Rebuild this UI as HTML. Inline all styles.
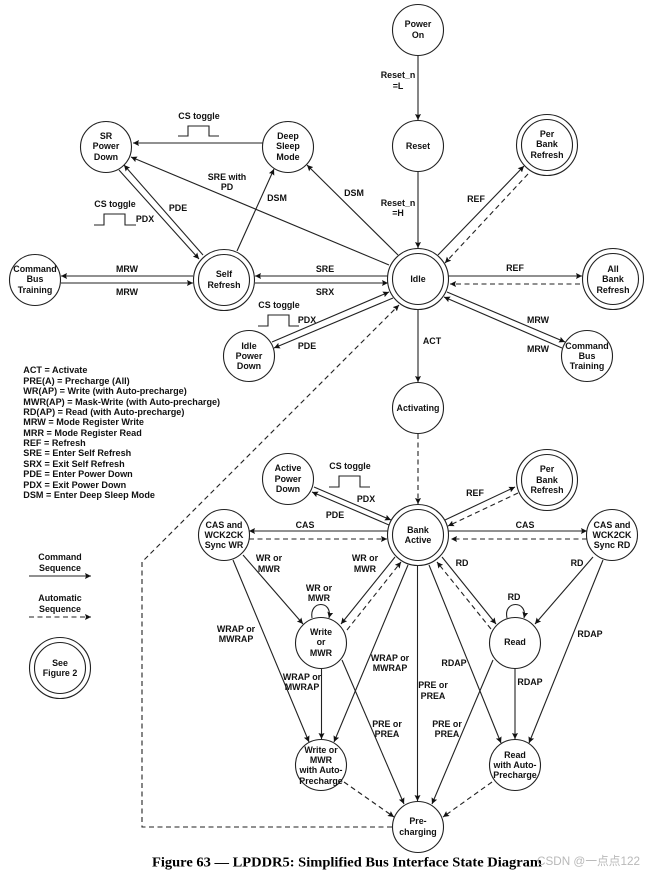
<!DOCTYPE html>
<html>
<head>
<meta charset="utf-8">
<style>
html,body{margin:0;padding:0;background:#fff;width:652px;height:875px;overflow:hidden}
svg{display:block}
text{font-family:"Liberation Sans","Noto Sans CJK SC",sans-serif;font-weight:bold;font-size:8.9px;fill:#111;text-anchor:middle;dominant-baseline:central}
text.leg{text-anchor:start;font-size:9.1px}
text.cap{font-family:"Liberation Serif",serif;font-size:14px;fill:#000;text-anchor:start}
text.wm{font-weight:normal;font-size:12px;fill:#b9b9b9;text-anchor:start}
line,path.e{stroke:#222;stroke-width:1.1;fill:none}
.d{stroke-dasharray:5 3.5}
circle{fill:#fff;stroke:#222;stroke-width:1.1}
</style>
</head>
<body>
<svg width="652" height="875" viewBox="0 0 652 875" xmlns="http://www.w3.org/2000/svg">
<defs>
<marker id="a" markerUnits="userSpaceOnUse" markerWidth="7" markerHeight="6" refX="6" refY="3" orient="auto"><path d="M0 0L6 3L0 6L1 3Z" fill="#111"/></marker>
</defs>

<g marker-end="url(#a)">
<line x1="418" y1="56" x2="418" y2="120"/>
<line x1="418" y1="172" x2="418" y2="248"/>
<line x1="263" y1="143" x2="133" y2="143"/>
<line x1="389" y1="265" x2="131" y2="157"/>
<line x1="398" y1="255" x2="307" y2="165"/>
<line x1="203" y1="255" x2="124" y2="165"/>
<line x1="119" y1="170" x2="199" y2="259"/>
<line x1="237" y1="251" x2="274" y2="169"/>
<line x1="193" y1="276" x2="61" y2="276"/>
<line x1="61" y1="283" x2="193" y2="283"/>
<line x1="388" y1="276" x2="255" y2="276"/>
<line x1="255" y1="283" x2="388" y2="283"/>
<line x1="272" y1="342" x2="389" y2="292"/>
<line x1="393" y1="298" x2="274" y2="348"/>
<line x1="438" y1="255" x2="524" y2="166"/>
<line class="d" x1="528" y1="174" x2="445" y2="263"/>
<line x1="448" y1="276" x2="582" y2="276"/>
<line class="d" x1="580" y1="284" x2="450" y2="284"/>
<line x1="447" y1="292" x2="565" y2="342"/>
<line x1="562" y1="348" x2="444" y2="297"/>
<line x1="418" y1="310" x2="418" y2="382"/>
<path class="e d" d="M392 827H142V562L399 305"/>
<line class="d" x1="418" y1="434" x2="418" y2="504"/>
<line x1="389" y1="525" x2="312" y2="492"/>
<line x1="314" y1="487" x2="391" y2="520"/>
<line x1="388" y1="531" x2="249" y2="531"/>
<line class="d" x1="249" y1="539" x2="387" y2="539"/>
<line x1="243" y1="555" x2="303" y2="624"/>
<line x1="233" y1="560" x2="309" y2="742"/>
<line x1="395" y1="557" x2="341" y2="624"/>
<line class="d" x1="347" y1="630" x2="401" y2="562"/>
<path class="e" d="M312 618C309 600 333 600 329 618"/>
<line x1="321.5" y1="669" x2="321.5" y2="739"/>
<line x1="408" y1="565" x2="334" y2="742"/>
<line x1="342" y1="660" x2="404" y2="804"/>
<line x1="417.5" y1="566" x2="417.5" y2="801"/>
<line class="d" x1="344" y1="782" x2="394" y2="817"/>
<line x1="445" y1="520" x2="515" y2="487"/>
<line class="d" x1="518" y1="493" x2="448" y2="526"/>
<line x1="448" y1="531" x2="587" y2="531"/>
<line class="d" x1="587" y1="539" x2="451" y2="539"/>
<line x1="442" y1="557" x2="496" y2="624"/>
<line class="d" x1="491" y1="629" x2="437" y2="562"/>
<line x1="593" y1="557" x2="535" y2="624"/>
<path class="e" d="M507 618C503 600 528 600 524 618"/>
<line x1="603" y1="560" x2="529" y2="743"/>
<line x1="429" y1="565" x2="501" y2="743"/>
<line x1="515" y1="669" x2="515" y2="739"/>
<line x1="493" y1="660" x2="432" y2="804"/>
<line class="d" x1="492" y1="782" x2="443" y2="817"/>
<line x1="29" y1="576" x2="91" y2="576"/>
<line class="d" x1="29" y1="617" x2="91" y2="617"/>
</g>

<path class="e" d="M178 136H188V126H209V136H219"/>
<path class="e" d="M94 225H104V214H125V225H136"/>
<path class="e" d="M258 326H268V315H289V326H299"/>
<path class="e" d="M329 487H339V476H360V487H370"/>

<!-- single circles -->
<circle cx="418" cy="30" r="25.5"/>
<circle cx="418" cy="146" r="25.5"/>
<circle cx="106" cy="147" r="25.5"/>
<circle cx="288" cy="147" r="25.5"/>
<circle cx="35" cy="280" r="25.5"/>
<circle cx="249" cy="356" r="25.5"/>
<circle cx="587" cy="356" r="25.5"/>
<circle cx="418" cy="408" r="25.5"/>
<circle cx="288" cy="479" r="25.5"/>
<circle cx="224" cy="535" r="25.5"/>
<circle cx="612" cy="535" r="25.5"/>
<circle cx="321" cy="643" r="25.5"/>
<circle cx="515" cy="643" r="25.5"/>
<circle cx="321" cy="765" r="25.5"/>
<circle cx="515" cy="765" r="25.5"/>
<circle cx="418" cy="827" r="25.5"/>
<!-- double circles -->
<circle cx="547" cy="145" r="30.5"/><circle cx="547" cy="145" r="25.5"/>
<circle cx="224" cy="280" r="30.5"/><circle cx="224" cy="280" r="25.5"/>
<circle cx="418" cy="279" r="30.5"/><circle cx="418" cy="279" r="25.5"/>
<circle cx="613" cy="279" r="30.5"/><circle cx="613" cy="279" r="25.5"/>
<circle cx="547" cy="480" r="30.5"/><circle cx="547" cy="480" r="25.5"/>
<circle cx="418" cy="535" r="30.5"/><circle cx="418" cy="535" r="25.5"/>
<circle cx="60" cy="668" r="30.5"/><circle cx="60" cy="668" r="25.5"/>

<!-- node text -->
<text x="418" y="24">Power</text><text x="418" y="35">On</text>
<text x="418" y="146">Reset</text>
<text x="106" y="136">SR</text><text x="106" y="146">Power</text><text x="106" y="157">Down</text>
<text x="288" y="136">Deep</text><text x="288" y="146">Sleep</text><text x="288" y="157">Mode</text>
<text x="35" y="269">Command</text><text x="35" y="279">Bus</text><text x="35" y="290">Training</text>
<text x="224" y="274">Self</text><text x="224" y="285">Refresh</text>
<text x="249" y="346">Idle</text><text x="249" y="356">Power</text><text x="249" y="366">Down</text>
<text x="547" y="134">Per</text><text x="547" y="144">Bank</text><text x="547" y="155">Refresh</text>
<text x="418" y="279">Idle</text>
<text x="613" y="269">All</text><text x="613" y="279">Bank</text><text x="613" y="290">Refresh</text>
<text x="587" y="346">Command</text><text x="587" y="356">Bus</text><text x="587" y="366">Training</text>
<text x="418" y="408">Activating</text>
<text x="288" y="468">Active</text><text x="288" y="479">Power</text><text x="288" y="489">Down</text>
<text x="547" y="469">Per</text><text x="547" y="480">Bank</text><text x="547" y="490">Refresh</text>
<text x="224" y="525">CAS and</text><text x="224" y="535">WCK2CK</text><text x="224" y="545">Sync WR</text>
<text x="612" y="525">CAS and</text><text x="612" y="535">WCK2CK</text><text x="612" y="545">Sync RD</text>
<text x="418" y="530">Bank</text><text x="418" y="540">Active</text>
<text x="321" y="632">Write</text><text x="321" y="642">or</text><text x="321" y="653">MWR</text>
<text x="515" y="642">Read</text>
<text x="321" y="750">Write or</text><text x="321" y="760">MWR</text><text x="321" y="770">with Auto-</text><text x="321" y="781">Precharge</text>
<text x="515" y="755">Read</text><text x="515" y="765">with Auto-</text><text x="515" y="775">Precharge</text>
<text x="418" y="821">Pre-</text><text x="418" y="832">charging</text>
<text x="60" y="663">See</text><text x="60" y="673">Figure 2</text>

<!-- edge labels -->
<text x="398" y="75">Reset_n</text><text x="398" y="86">=L</text>
<text x="398" y="203">Reset_n</text><text x="398" y="213">=H</text>
<text x="199" y="116">CS toggle</text>
<text x="115" y="204">CS toggle</text>
<text x="279" y="305">CS toggle</text>
<text x="350" y="466">CS toggle</text>
<text x="227" y="177">SRE with</text><text x="227" y="187">PD</text>
<text x="277" y="198">DSM</text>
<text x="354" y="193">DSM</text>
<text x="178" y="208">PDE</text>
<text x="145" y="219">PDX</text>
<text x="127" y="269">MRW</text><text x="127" y="292">MRW</text>
<text x="325" y="269">SRE</text><text x="325" y="292">SRX</text>
<text x="307" y="320">PDX</text><text x="307" y="346">PDE</text>
<text x="476" y="199">REF</text>
<text x="515" y="268">REF</text>
<text x="538" y="320">MRW</text><text x="538" y="349">MRW</text>
<text x="432" y="341">ACT</text>
<text x="366" y="499">PDX</text><text x="335" y="515">PDE</text>
<text x="475" y="493">REF</text>
<text x="305" y="525">CAS</text><text x="525" y="525">CAS</text>
<text x="269" y="558">WR or</text><text x="269" y="569">MWR</text>
<text x="365" y="558">WR or</text><text x="365" y="569">MWR</text>
<text x="319" y="588">WR or</text><text x="319" y="598">MWR</text>
<text x="236" y="629">WRAP or</text><text x="236" y="639">MWRAP</text>
<text x="302" y="677">WRAP or</text><text x="302" y="687">MWRAP</text>
<text x="390" y="658">WRAP or</text><text x="390" y="668">MWRAP</text>
<text x="387" y="724">PRE or</text><text x="387" y="734">PREA</text>
<text x="433" y="685">PRE or</text><text x="433" y="696">PREA</text>
<text x="447" y="724">PRE or</text><text x="447" y="734">PREA</text>
<text x="454" y="663">RDAP</text>
<text x="530" y="682">RDAP</text>
<text x="590" y="634">RDAP</text>
<text x="462" y="563">RD</text><text x="577" y="563">RD</text><text x="514" y="597">RD</text>

<!-- legend -->
<text class="leg" x="23.3" y="370">ACT = Activate</text>
<text class="leg" x="23.3" y="381">PRE(A) = Precharge (All)</text>
<text class="leg" x="23.3" y="391">WR(AP) = Write (with Auto-precharge)</text>
<text class="leg" x="23.3" y="402">MWR(AP) = Mask-Write (with Auto-precharge)</text>
<text class="leg" x="23.3" y="412">RD(AP) = Read (with Auto-precharge)</text>
<text class="leg" x="23.3" y="422">MRW = Mode Register Write</text>
<text class="leg" x="23.3" y="433">MRR = Mode Register Read</text>
<text class="leg" x="23.3" y="443">REF = Refresh</text>
<text class="leg" x="23.3" y="453">SRE = Enter Self Refresh</text>
<text class="leg" x="23.3" y="464">SRX = Exit Self Refresh</text>
<text class="leg" x="23.3" y="474">PDE = Enter Power Down</text>
<text class="leg" x="23.3" y="485">PDX = Exit Power Down</text>
<text class="leg" x="23.3" y="495">DSM = Enter Deep Sleep Mode</text>

<text x="60" y="557">Command</text><text x="60" y="568">Sequence</text>
<text x="60" y="598">Automatic</text><text x="60" y="609">Sequence</text>

<text class="cap" x="152" y="863" textLength="390" lengthAdjust="spacingAndGlyphs">Figure 63 — LPDDR5: Simplified Bus Interface State Diagram</text>
<text class="wm" x="537" y="861" textLength="103" lengthAdjust="spacingAndGlyphs">CSDN @一点点122</text>
</svg>
</body>
</html>
